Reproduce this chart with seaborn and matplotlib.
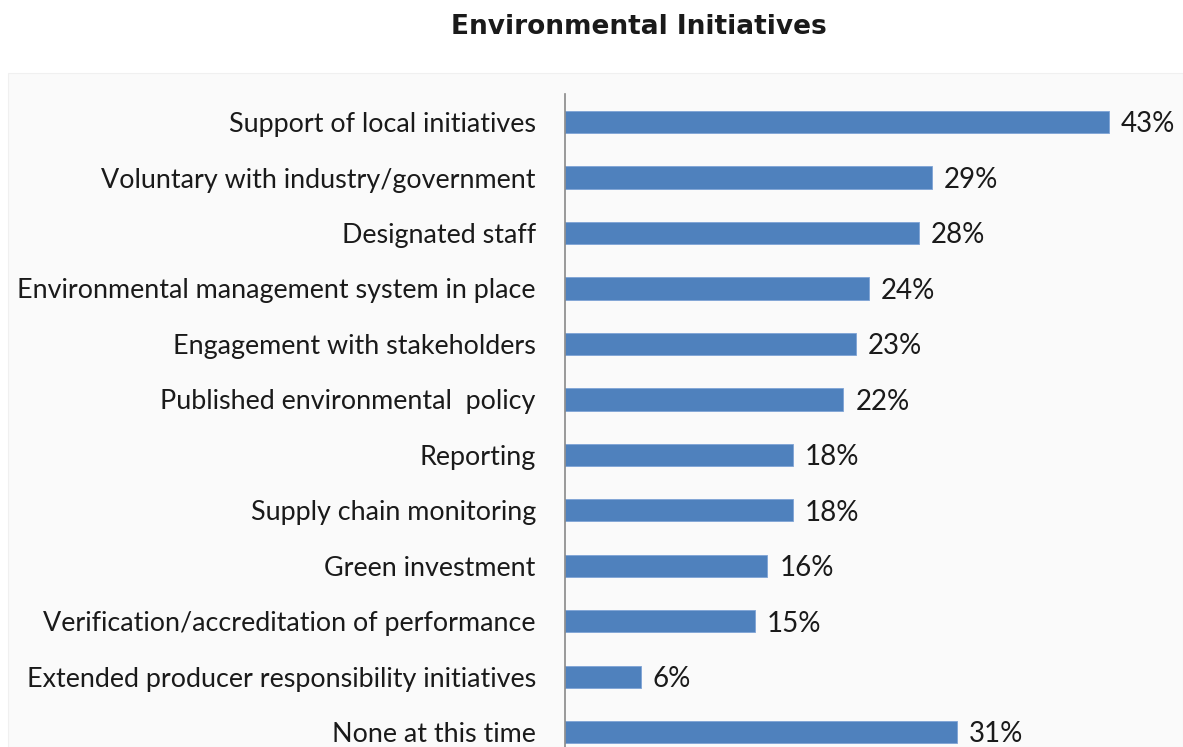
import matplotlib
matplotlib.use("Agg")
import matplotlib.pyplot as plt
import matplotlib.patches as mpatches
import seaborn as sns
import pandas as pd

categories = [
    "Support of local initiatives",
    "Voluntary with industry/government",
    "Designated staff",
    "Environmental management system in place",
    "Engagement with stakeholders",
    "Published environmental  policy",
    "Reporting",
    "Supply chain monitoring",
    "Green investment",
    "Verification/accreditation of performance",
    "Extended producer responsibility initiatives",
    "None at this time",
]
values = [43, 29, 28, 24, 23, 22, 18, 18, 16, 15, 6, 31]

df = pd.DataFrame({"initiative": categories, "share": values})

sns.set_theme(style="white")
plt.rcParams["font.family"] = ["Lato", "DejaVu Sans"]

W, H = 1183, 747
fig = plt.figure(figsize=(W / 100, H / 100), dpi=100)
fig.patch.set_facecolor("white")

# soft grey chart panel behind the plot
fig.add_artist(mpatches.Rectangle((8 / W, 0), 1 - 8 / W, (H - 73) / H,
                                  transform=fig.transFigure, facecolor="#fafafa",
                                  edgecolor="#f0f0f0", linewidth=0.8, zorder=0))

top_px, bottom_px = 94.3, 760.0
left_px = 565
px_per_unit = 12.65
xmax = 45
ax = fig.add_axes([left_px / W, (H - bottom_px) / H,
                   xmax * px_per_unit / W, (bottom_px - top_px) / H])
ax.set_facecolor("none")

sns.barplot(data=df, y="initiative", x="share", orient="h", color="#4F81BD",
            saturation=1, width=0.4, edgecolor="#7ea3d6", linewidth=0.6, ax=ax)

ax.set_xlim(0, xmax)
ax.set_ylim(len(categories) - 0.5, -0.5)
ax.set_xlabel("")
ax.set_ylabel("")
ax.set_xticks([])
for s in ["top", "right", "bottom"]:
    ax.spines[s].set_visible(False)
ax.spines["left"].set_color("#888888")
ax.spines["left"].set_linewidth(1.2)
ax.tick_params(axis="y", length=0, pad=21, labelsize=19.4, labelcolor="#1a1a1a")

for i, v in enumerate(values):
    ax.text(v + 0.95, i + 0.04, f"{v}%", va="center", ha="left", fontsize=20,
            color="#1a1a1a", clip_on=False)

fig.text(639 / W, 1 - 27 / H, "Environmental Initiatives", ha="center", va="center",
         fontsize=19, fontweight="bold", color="#1a1a1a",
         family=["Verdana", "DejaVu Sans"])

fig.savefig("out.png", dpi=100)
